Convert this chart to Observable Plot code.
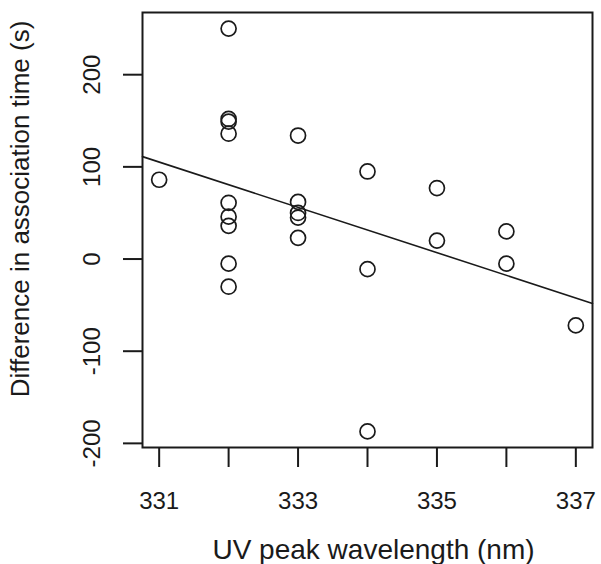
<!DOCTYPE html>
<html><head><meta charset="utf-8">
<script src="https://cdn.jsdelivr.net/npm/d3@7"></script>
<script src="https://cdn.jsdelivr.net/npm/@observablehq/plot@0.6"></script>
<style>body{margin:0;background:#fff}svg{display:block}</style>
</head><body><script>
const wavelength = [331, 332,332,332,332,332,332,332,332,332, 333,333,333,333,333, 334,334,334, 335,335, 336,336, 337];
const diffTime   = [86, 250,152,149,136,61,46,36,-5,-30, 134,62,50,45,23, 95,-11,-187, 77,20, 30,-5, -72];
const xTicks = [331,332,333,334,335,336,337];
const xTickLabels = [331,333,335,337];
const yTicks = [-200,-100,0,100,200];
const xTitle = "UV peak wavelength (nm)";
const yTitle = "Difference in association time (s)";

const points = wavelength.map((x, i) => ({x, y: diffTime[i]}));
function pad(ext) { const d = (ext[1] - ext[0]) * 0.04; return [ext[0] - d, ext[1] + d]; }
const xDomain = pad(d3.extent(wavelength));
const yDomain = pad(d3.extent(diffTime));
const mx = d3.mean(wavelength), my = d3.mean(diffTime);
const slope = d3.sum(points, p => (p.x - mx) * (p.y - my)) / d3.sum(points, p => (p.x - mx) ** 2);
const intercept = my - slope * mx;
const fit = xDomain.map(x => ({x, y: intercept + slope * x}));

const ink = "#1a1a1a";
const chart = Plot.plot({
  width: 601, height: 564,
  marginLeft: 142, marginRight: 9, marginTop: 12, marginBottom: 117,
  style: {fontFamily: "'Liberation Sans', Arial, sans-serif", background: "#fff", color: ink},
  x: {domain: xDomain},
  y: {domain: yDomain},
  marks: [
    Plot.axisX({ticks: xTicks, tickSize: 20, tickFormat: () => "", label: null, strokeWidth: 2, stroke: ink}),
    Plot.axisX({ticks: xTickLabels, tickSize: 0, tickPadding: 44, label: null, fontSize: 24, fill: ink, tickFormat: d => String(d)}),
    Plot.axisY({ticks: yTicks, tickSize: 19, tickFormat: () => "", label: null, strokeWidth: 2, stroke: ink}),
    Plot.text(yTicks, {y: d => d, frameAnchor: "left", dx: -50, rotate: -90, text: d => String(d), fontSize: 24, fill: ink, textAnchor: "middle", lineAnchor: "middle"}),
    Plot.text([xTitle], {frameAnchor: "bottom", dx: 6, dy: 92, text: d => d, fontSize: 28, fill: ink, textAnchor: "middle", lineAnchor: "top"}),
    Plot.text([yTitle], {frameAnchor: "left", dx: -122, dy: -21, rotate: -90, text: d => d, fontSize: 26, fill: ink, textAnchor: "middle", lineAnchor: "middle"}),
    Plot.line(fit, {x: "x", y: "y", stroke: ink, strokeWidth: 1.6}),
    Plot.dot(points, {x: "x", y: "y", r: 7.5, stroke: ink, strokeWidth: 1.7, fill: "none"}),
    Plot.frame({stroke: ink, strokeWidth: 2})
  ]
});
document.body.appendChild(chart);
</script></body></html>
